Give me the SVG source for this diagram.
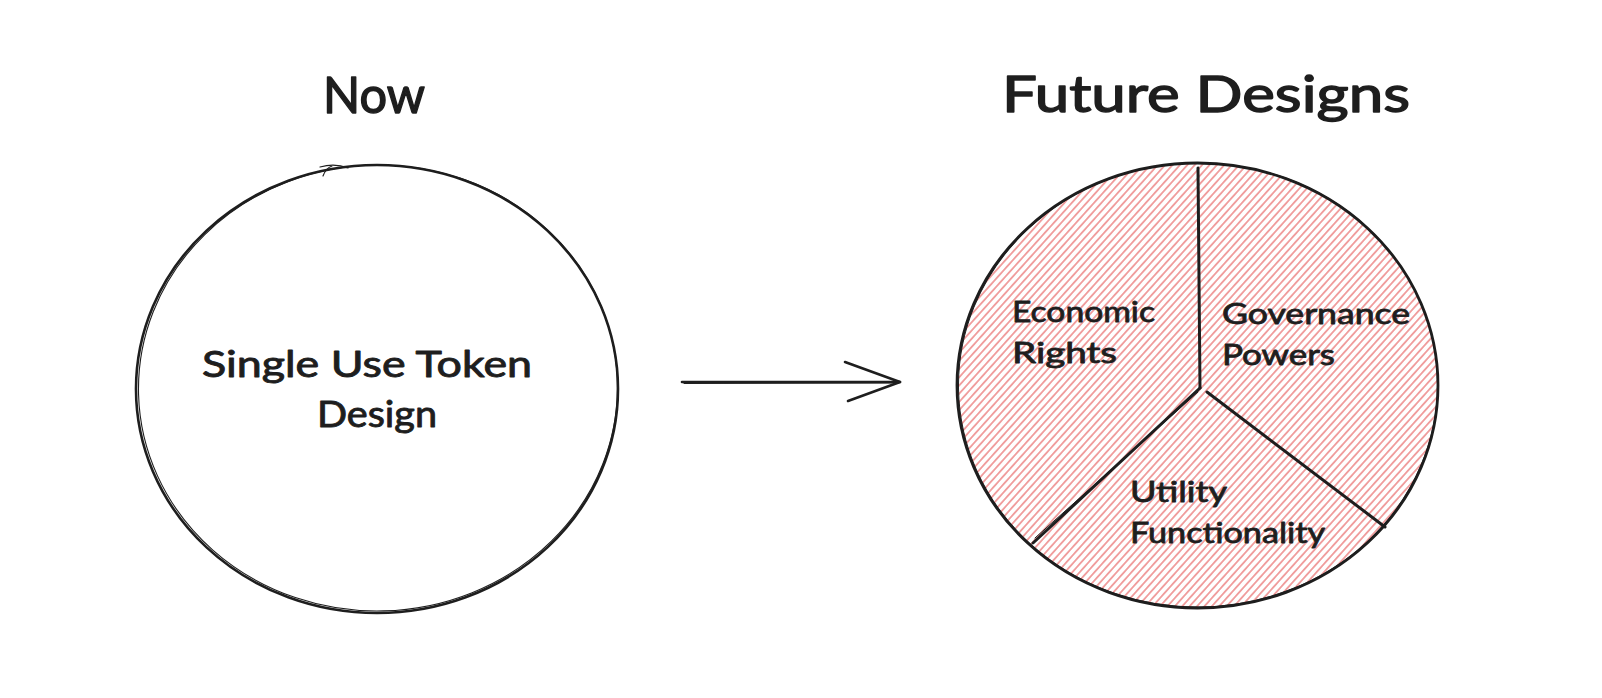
<svg xmlns="http://www.w3.org/2000/svg" width="1602" height="698" viewBox="0 0 1602 698">
  <style>
    .ink { fill: none; stroke: #1e1e1e; stroke-linecap: round; stroke-linejoin: round; }
    .txt { font-family: "Lato", "Noto Sans", "Liberation Sans", sans-serif; fill: #1e1e1e; stroke: #1e1e1e; stroke-linejoin: round; }
    .title { font-size: 50px; stroke-width: 1.4; }
    .label { font-size: 36px; stroke-width: 0.9; }
    .slice { font-size: 28px; stroke-width: 0.8; }
  </style>
  <defs>
    <pattern id="hatch" patternUnits="userSpaceOnUse" width="10" height="5.5" patternTransform="rotate(-48)">
      <line x1="0" y1="2.75" x2="10" y2="2.75" stroke="#e03131" stroke-width="1.1" stroke-opacity="0.8"/>
    </pattern>
  </defs>
  <rect width="1602" height="698" fill="#ffffff"/>

  <g id="title-now">
    <text class="txt title" x="323" y="113" textLength="102" lengthAdjust="spacingAndGlyphs">Now</text>
  </g>
  <g id="title-future">
    <text class="txt title" x="1002" y="112" textLength="408" lengthAdjust="spacingAndGlyphs">Future Designs</text>
  </g>

  <g id="node-now">
    <ellipse class="ink" cx="377" cy="389" rx="241" ry="224" stroke-width="2.6"/>
    <ellipse class="ink" cx="378" cy="388" rx="239.5" ry="223" stroke-width="1.1" transform="rotate(-1.5 377 389)"/>
    <path class="ink" d="M323 176 Q326 168 332 166 M320 167 Q335 163 348 168" stroke-width="1.2"/>
    <text class="txt label" x="202" y="377" textLength="330" lengthAdjust="spacingAndGlyphs">Single Use Token</text>
    <text class="txt label" x="317" y="427" textLength="120" lengthAdjust="spacingAndGlyphs">Design</text>
  </g>

  <g id="node-future">
    <ellipse cx="1197.5" cy="385.5" rx="240.5" ry="222.5" fill="url(#hatch)"/>
    <ellipse class="ink" cx="1197.5" cy="385.5" rx="240.5" ry="222.5" stroke-width="2.8"/>
    <ellipse class="ink" cx="1198" cy="385" rx="239.5" ry="222" stroke-width="1" transform="rotate(-1 1197.5 385.5)"/>
    <g id="dividers">
      <path class="ink" d="M1198 168 L1200 388" stroke-width="3"/>
      <path class="ink" d="M1200 388 L1033 543" stroke-width="3"/>
      <path class="ink" d="M1035 538 L1198 392" stroke-width="1"/>
      <path class="ink" d="M1207 392 L1385 527" stroke-width="3"/>
    </g>
    <g id="slice-economic">
      <text class="txt slice" x="1012" y="322" textLength="143" lengthAdjust="spacingAndGlyphs">Economic</text>
      <text class="txt slice" x="1012" y="363" textLength="105" lengthAdjust="spacingAndGlyphs">Rights</text>
    </g>
    <g id="slice-governance">
      <text class="txt slice" x="1222" y="324" textLength="188" lengthAdjust="spacingAndGlyphs">Governance</text>
      <text class="txt slice" x="1222" y="365" textLength="113" lengthAdjust="spacingAndGlyphs">Powers</text>
    </g>
    <g id="slice-utility">
      <text class="txt slice" x="1130" y="502" textLength="97" lengthAdjust="spacingAndGlyphs">Utility</text>
      <text class="txt slice" x="1130" y="543" textLength="195" lengthAdjust="spacingAndGlyphs">Functionality</text>
    </g>
  </g>

  <g id="connectors">
    <path class="ink" d="M682 382 L900 382" stroke-width="2.6"/>
    <path class="ink" d="M684 383.5 L898 383" stroke-width="1"/>
    <path class="ink" d="M845 362 L900 382 L848 401" stroke-width="2.6"/>
  </g>
</svg>
